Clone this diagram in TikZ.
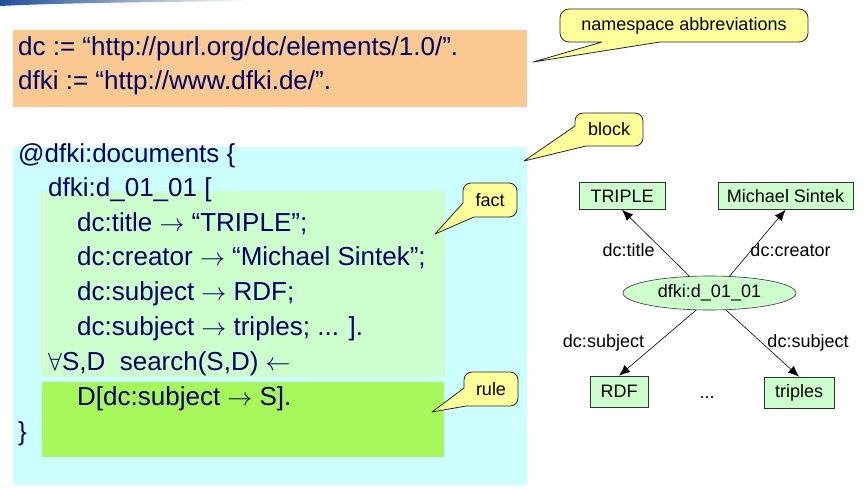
\documentclass[tikz,border=0pt]{standalone}
\usepackage{fontspec}
\setmainfont{Liberation Sans}
\usetikzlibrary{arrows.meta,shapes.geometric}
\definecolor{codeblue}{HTML}{000066}
\definecolor{orangebg}{HTML}{F9C991}
\definecolor{cyanbg}{HTML}{CCFFFF}
\definecolor{factbg}{HTML}{CCFFCC}
\definecolor{rulebg}{HTML}{A6F85B}
\definecolor{callyellow}{HTML}{FFFF99}
\definecolor{gfill}{HTML}{CCFFCC}
\definecolor{bannerblue}{HTML}{1F4E9A}
\begin{document}
\begin{tikzpicture}[x=1pt,y=-1pt,
  code/.style={anchor=base west,inner sep=0,text=codeblue,font=\fontsize{26}{30}\selectfont},
  callbox/.style={draw=black!85,fill=callyellow,line width=0.8pt,line join=round},
  ctext/.style={font=\fontsize{18}{21}\selectfont,inner sep=0},
  gbox/.style={draw=black!80,fill=gfill,line width=0.6pt,font=\fontsize{18}{21}\selectfont,inner xsep=0,inner ysep=0},
  gell/.style={ellipse,draw=black!80,fill=gfill,line width=0.6pt,font=\fontsize{18}{21}\selectfont,inner sep=0,minimum width=173pt,minimum height=34pt},
  elabel/.style={font=\fontsize{18}{21}\selectfont,inner sep=0},
  edge/.style={-{Latex[length=11pt,width=9pt]},line width=0.6pt}]
\useasboundingbox (0,0) rectangle (866,488);

% decorative banner fragment
\shade[left color=bannerblue, right color=white] (0,0) -- (250,0) -- (250,1) .. controls (150,2) and (60,3) .. (0,6) -- cycle;

% background blocks
\fill[orangebg] (13,30) rectangle (527,107);
\fill[cyanbg] (13,147) rectangle (527,485);
\fill[factbg] (41,191) rectangle (445,377);
\fill[rulebg] (42,382) rectangle (444,457);

% code text
\node[code] (l1) at (18,55) {dc := “http://purl.org/dc/elements/1.0/”.};
\node[code] (l2) at (18,89) {dfki := “http://www.dfki.de/”.};
\node[code] (l3) at (18,162) {@dfki:documents \{};
\node[code] (l4) at (48,196) {dfki:d\_01\_01 [};
\node[code] (l5) at (77,231) {dc:title $\rightarrow$ “TRIPLE”;};
\node[code] (l6) at (77,265) {dc:creator $\rightarrow$ “Michael Sintek”;};
\node[code] (l7) at (77,300) {dc:subject $\rightarrow$ RDF;};
\node[code] (l8) at (77,335) {dc:subject $\rightarrow$ triples; ... ].};
\node[code] (l9) at (48,370) {$\forall$S,D\ \ search(S,D) $\leftarrow$};
\node[code] (l10) at (77,405) {D[dc:subject $\rightarrow$ S].};
\node[code] (l11) at (18,440) {\}};

% callouts
\coordinate (nsTip) at (533,62);
\draw[callbox] (602,42) -- (nsTip) -- (660,42) [rounded corners=9pt] -- (808,42) -- (808,9) -- (560,9) -- (560,42) [sharp corners] -- cycle;
\node[ctext] (ns) at (684,26) {namespace abbreviations};

\coordinate (blkTip) at (524,161);
\draw[callbox] (575,126) -- (blkTip) -- (586,146) [rounded corners=8pt] -- (643,146) -- (643,113) -- (575,113) [sharp corners] -- cycle;
\node[ctext] (blk) at (609,129.5) {block};

\coordinate (fctTip) at (435,234);
\draw[callbox] (463,203) -- (fctTip) -- (474,217) [rounded corners=8pt] -- (517,217) -- (517,183) -- (463,183) [sharp corners] -- cycle;
\node[ctext] (fct) at (490,200) {fact};

\coordinate (rulTip) at (432,412);
\draw[callbox] (464,388) -- (rulTip) -- (466,406) [rounded corners=8pt] -- (518,406) -- (518,372) -- (464,372) [sharp corners] -- cycle;
\node[ctext] (rul) at (491,389) {rule};

% graph
\node[gbox,minimum width=86pt,minimum height=27pt] (t) at (622,196) {TRIPLE};
\node[gbox,minimum width=135pt,minimum height=27pt] (m) at (785.5,196) {Michael Sintek};
\node[gell] (e) at (709.5,293) {dfki:d\_01\_01};
\node[gbox,minimum width=58pt,minimum height=31pt] (r) at (619,391.5) {RDF};
\node[gbox,minimum width=70pt,minimum height=31pt] (tr) at (799,392.5) {triples};
\node[elabel,anchor=base] (dots) at (707,398) {...};

\draw[edge] (e.140) -- (t.south);
\draw[edge] (e.40) -- (m.south);
\draw[edge] (e.232) -- (r.north);
\draw[edge] (e.314) -- (tr.north);

\node[elabel] (lt) at (628.5,250) {dc:title};
\node[elabel] (lc) at (790.5,250) {dc:creator};
\node[elabel] (ls1) at (603.5,343) {dc:subject};
\node[elabel] (ls2) at (808,343) {dc:subject};
\end{tikzpicture}
\end{document}
